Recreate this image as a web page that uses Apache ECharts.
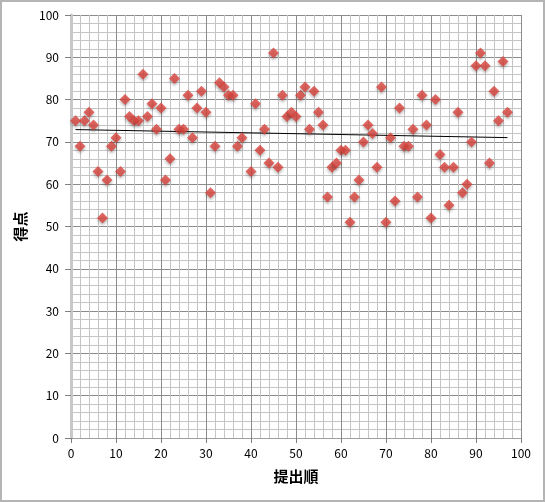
<!DOCTYPE html>
<html>
<head>
<meta charset="utf-8">
<script src="https://cdn.jsdelivr.net/npm/echarts@6/dist/echarts.min.js"></script>
<style>
html,body{margin:0;padding:0;background:#fff;}
#wrap{position:absolute;left:0;top:0;width:541px;height:498px;border:2px solid #b4b4b4;}
#chart{width:545px;height:502px;position:absolute;left:-2px;top:-2px;}
</style>
</head>
<body>
<div id="wrap"><div id="chart"></div></div>
<script>
const order = [1,2,3,4,5,6,7,8,9,10,11,12,13,14,15,16,17,18,19,20,21,22,23,24,25,26,27,28,29,30,31,32,33,34,35,36,37,38,40,41,42,43,44,45,46,47,48,49,50,51,52,53,54,55,56,57,58,59,60,61,62,63,64,65,66,67,68,69,70,71,72,73,74,75,76,77,78,79,80,81,82,83,84,85,86,87,88,89,90,91,92,93,94,95,96,97];
const scores = [75,69,75,77,74,63,52,61,69,71,63,80,76,75,75,86,76,79,73,78,61,66,85,73,73,81,71,78,82,77,58,69,84,83,81,81,69,71,63,79,68,73,65,91,64,81,76,77,76,81,83,73,82,77,74,57,64,65,68,68,51,57,61,70,74,72,64,83,51,71,56,78,69,69,73,57,81,74,52,80,67,64,55,64,77,58,60,70,88,91,88,65,82,75,89,77];
const xTitle = '提出順';
const yTitle = '得点';

const pts = order.map((x,i)=>[x, scores[i]]);
// linear trendline (least squares, as in the spreadsheet)
const n = pts.length;
let sx=0, sy=0, sxx=0, sxy=0;
pts.forEach(([x,y])=>{sx+=x;sy+=y;sxx+=x*x;sxy+=x*y;});
const slope = (n*sxy - sx*sy)/(n*sxx - sx*sx);
const icpt = (sy - slope*sx)/n;
const xmin = Math.min(...order), xmax = Math.max(...order);
const trend = [[xmin, icpt+slope*xmin],[xmax, icpt+slope*xmax]];

const font = '"Noto Sans CJK JP", "Noto Sans", sans-serif';
const chart = echarts.init(document.getElementById('chart'), null, {renderer:'canvas'});
chart.setOption({
  animation:false,
  grid:{left:71, right:24, top:15, bottom:64, containLabel:false},
  xAxis:{
    type:'value', min:0, max:100, interval:10,
    name:xTitle, nameLocation:'middle', nameGap:31,
    nameTextStyle:{fontFamily:font, fontSize:15, fontWeight:'bold', color:'#000'},
    axisLine:{show:true, lineStyle:{color:'#a0a0a0', width:1}},
    axisTick:{show:true, length:5, lineStyle:{color:'#808080'}},
    axisLabel:{fontFamily:font, fontSize:12, color:'#000', margin:9},
    splitLine:{show:true, lineStyle:{color:'#8c8c8c', width:1}},
    minorTick:{show:false, splitNumber:5},
    minorSplitLine:{show:true, lineStyle:{color:'#c4c4c4', width:1}}
  },
  yAxis:{
    type:'value', min:0, max:100, interval:10,
    name:yTitle, nameLocation:'middle', nameGap:36, nameRotate:90,
    nameTextStyle:{fontFamily:font, fontSize:15, fontWeight:'bold', color:'#000'},
    axisLine:{show:true, lineStyle:{color:'#c8c8c8', width:3}},
    axisTick:{show:true, length:6, lineStyle:{color:'#808080'}},
    axisLabel:{fontFamily:font, fontSize:12, color:'#000', margin:12},
    splitLine:{show:true, lineStyle:{color:'#8c8c8c', width:1}},
    minorTick:{show:false, splitNumber:5},
    minorSplitLine:{show:true, lineStyle:{color:'#c4c4c4', width:1}}
  },
  series:[
    {
      type:'line', data:trend, symbol:'none', silent:true,
      lineStyle:{color:'#000', width:1}, z:3
    },
    {
      type:'scatter', data:pts, symbol:'diamond', symbolSize:11,
      itemStyle:{color:'#d8443c', shadowBlur:3, shadowColor:'rgba(0,0,0,0.35)', shadowOffsetY:2}, z:4
    }
  ]
});
</script>
</body>
</html>
